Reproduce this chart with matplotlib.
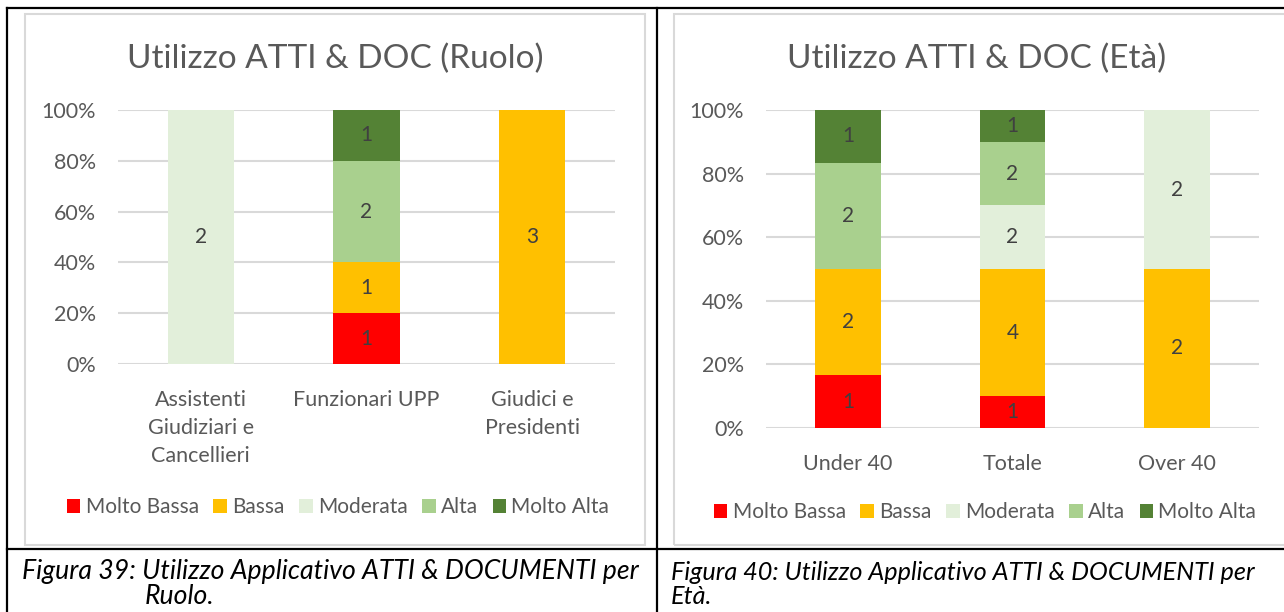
import matplotlib.pyplot as plt
import numpy as np
from matplotlib.patches import Rectangle, Patch
from matplotlib.lines import Line2D
from matplotlib.ticker import PercentFormatter

plt.rcParams['font.family'] = ['Lato', 'DejaVu Sans']

# --- data -------------------------------------------------------------
levels = ["Molto Bassa", "Bassa", "Moderata", "Alta", "Molto Alta"]
level_colors = ["#FF0000", "#FFC000", "#E2EFDA", "#A9D08E", "#548235"]

ruolo_cats = ["Assistenti\nGiudiziari e\nCancellieri", "Funzionari UPP", "Giudici e\nPresidenti"]
ruolo_molto_bassa = [0, 1, 0]
ruolo_bassa = [0, 1, 3]
ruolo_moderata = [2, 0, 0]
ruolo_alta = [0, 2, 0]
ruolo_molto_alta = [0, 1, 0]

eta_cats = ["Under 40", "Totale", "Over 40"]
eta_molto_bassa = [1, 1, 0]
eta_bassa = [2, 4, 2]
eta_moderata = [0, 2, 2]
eta_alta = [2, 2, 0]
eta_molto_alta = [1, 1, 0]

ruolo_title = "Utilizzo ATTI & DOC (Ruolo)"
eta_title = "Utilizzo ATTI & DOC (Età)"
cap39 = ["Figura 39: Utilizzo Applicativo ATTI & DOCUMENTI per", "Ruolo."]
cap40 = ["Figura 40: Utilizzo Applicativo ATTI & DOCUMENTI per", "Età."]

TXT = "#595959"
LBL = "#404040"
GRID = "#D9D9D9"

W, H = 1284, 612
fig = plt.figure(figsize=(W / 100, H / 100), dpi=100)


def fx(px):
    return px / W


def fy(py):
    return 1 - py / H


def stacked(ax, cats, series):
    counts = np.array(series, dtype=float)
    totals = counts.sum(axis=0)
    pct = counts / totals
    x = np.arange(len(cats))
    bottom = np.zeros(len(cats))
    for name, col, vals, cnt in zip(levels, level_colors, pct, counts):
        ax.bar(x, vals, 0.4, bottom=bottom, color=col, label=name, zorder=2)
        for xi, v, b, c in zip(x, vals, bottom, cnt):
            if c > 0:
                ax.text(xi, b + v / 2, f"{int(c)}", ha="center", va="center",
                        fontsize=15, color=LBL, zorder=3)
        bottom += vals
    ax.set_xlim(-0.5, len(cats) - 0.5)
    ax.set_ylim(0, 1)
    ax.set_xticks(x)
    ax.set_xticklabels(cats, fontsize=15.5, color=TXT, linespacing=1.48)
    ax.set_yticks(np.linspace(0, 1, 6))
    ax.yaxis.set_major_formatter(PercentFormatter(1.0, decimals=0))
    ax.tick_params(axis="y", labelsize=15.5, labelcolor=TXT, length=0, pad=16)
    ax.tick_params(axis="x", length=0, pad=19)
    ax.grid(axis="y", color=GRID, linewidth=1.5, zorder=0)
    for s in ax.spines.values():
        s.set_visible(False)


# left chart
ax1 = fig.add_axes([fx(118), fy(364), fx(615 - 118), (364 - 110) / H])
stacked(ax1, ruolo_cats,
        [ruolo_molto_bassa, ruolo_bassa, ruolo_moderata, ruolo_alta, ruolo_molto_alta])

# right chart
ax2 = fig.add_axes([fx(766), fy(428), fx(1259 - 766), (428 - 110) / H])
stacked(ax2, eta_cats,
        [eta_molto_bassa, eta_bassa, eta_moderata, eta_alta, eta_molto_alta])

fig.text(fx(335), fy(59), ruolo_title, ha="center", va="center", fontsize=24, color=TXT)
fig.text(fx(977), fy(59), eta_title, ha="center", va="center", fontsize=24, color=TXT)

handles = [Patch(facecolor=c, edgecolor="none") for c in level_colors]
for cx, cy in [(338, 507), (985, 512)]:
    fig.legend(handles, levels, loc="center", bbox_to_anchor=(fx(cx), fy(cy)),
               ncol=5, frameon=False, fontsize=15, labelcolor=TXT,
               handlelength=0.65, handleheight=0.65, handletextpad=0.25,
               columnspacing=0.7)

# chart area boxes
fig.patches.append(Rectangle((fx(25), fy(545)), fx(645 - 25), (545 - 14) / H,
                             transform=fig.transFigure, fill=False,
                             edgecolor=GRID, linewidth=1.5))
fig.patches.append(Rectangle((fx(674), fy(545)), fx(1290 - 674), (545 - 14) / H,
                             transform=fig.transFigure, fill=False,
                             edgecolor=GRID, linewidth=1.5))

# table borders
for xs, ys in [((7, 1284), (8, 8)), ((7, 7), (8, 612)), ((657, 657), (8, 612)),
               ((7, 1284), (549, 549))]:
    fig.add_artist(Line2D([fx(xs[0]), fx(xs[1])], [fy(ys[0]), fy(ys[1])],
                          transform=fig.transFigure, color="black", linewidth=1.6))

# captions
fig.text(fx(22), fy(572), cap39[0], ha="left", va="center", fontsize=19.2, style="italic")
fig.text(fx(145), fy(597), cap39[1], ha="left", va="center", fontsize=19.2, style="italic")
fig.text(fx(671), fy(572), cap40[0], ha="left", va="center", fontsize=18.2, style="italic")
fig.text(fx(671), fy(597), cap40[1], ha="left", va="center", fontsize=18.2, style="italic")

fig.savefig("out.png", dpi=100)
